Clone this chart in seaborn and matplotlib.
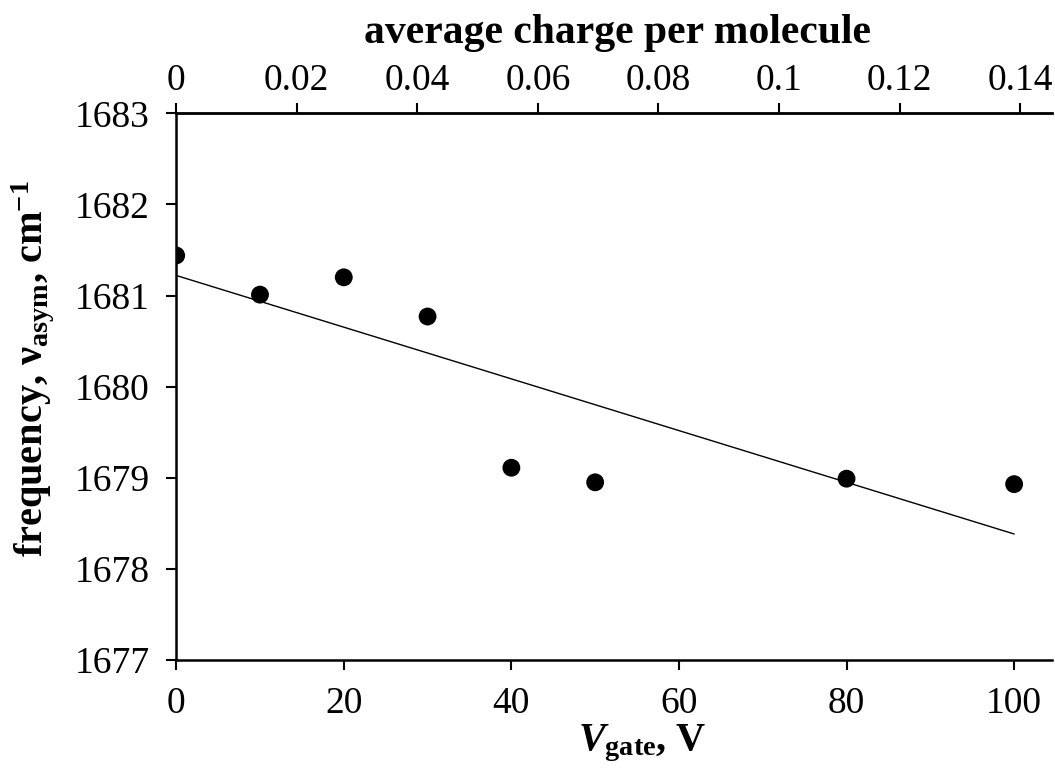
import numpy as np
import pandas as pd
import matplotlib
matplotlib.use("Agg")
import matplotlib.pyplot as plt
import seaborn as sns

# data
v_gate = [0, 10, 20, 30, 40, 50, 80, 100]
frequency = [1681.44, 1681.01, 1681.20, 1680.77, 1679.11, 1678.95, 1678.99, 1678.93]
x_ticks = [0, 20, 40, 60, 80, 100]
y_ticks = [1677, 1678, 1679, 1680, 1681, 1682, 1683]
top_ticks = [0, 0.02, 0.04, 0.06, 0.08, 0.1, 0.12, 0.14]
charge_per_volt = 0.00139

sns.set_style("ticks")
plt.rcParams["font.family"] = ["Liberation Serif", "DejaVu Serif"]
plt.rcParams["mathtext.fontset"] = "custom"
plt.rcParams["mathtext.rm"] = "Liberation Serif:bold"
plt.rcParams["mathtext.bf"] = "Liberation Serif:bold"
plt.rcParams["mathtext.it"] = "Liberation Serif:italic:bold"
plt.rcParams["text.color"] = "black"
plt.rcParams["axes.labelcolor"] = "black"
plt.rcParams["xtick.color"] = "black"
plt.rcParams["ytick.color"] = "black"

df = pd.DataFrame({"v": v_gate, "f": frequency})

fig = plt.figure(figsize=(10.55, 7.71), dpi=100)
ax = fig.add_axes([0.167, 0.144, 0.830, 0.709])

sns.regplot(data=df, x="v", y="f", ax=ax, ci=None, color="black",
            scatter_kws={"s": 165, "edgecolor": "none", "alpha": 1, "zorder": 3},
            line_kws={"linewidth": 1.0})

ax.set_xlim(0, 104.5)
ax.set_ylim(1677, 1683)
ax.set_xticks(x_ticks)
ax.set_yticks(y_ticks)
ax.set_xticklabels([str(t) for t in x_ticks])
ax.set_yticklabels([str(t) for t in y_ticks])

for s in ["left", "bottom", "top"]:
    ax.spines[s].set_linewidth(1.8)
    ax.spines[s].set_color("black")
ax.spines["right"].set_visible(False)
ax.tick_params(axis="both", direction="out", length=7, width=1.5,
               labelsize=27, colors="black")
ax.tick_params(axis="y", pad=12)
ax.tick_params(axis="x", pad=12)

ax.set_xlabel(r"$V_{\mathrm{gate}}$, V", fontsize=29, fontweight="bold")
ax.xaxis.set_label_coords(0.532, -0.115)
ax.set_ylabel("")

fig.text(0.031, 0.522, r"frequency, ν$_{\mathrm{asym}}$, cm$^{\mathrm{-1}}$",
         fontsize=29, fontweight="bold", rotation=90, ha="center", va="center")

sec = ax.secondary_xaxis("top", functions=(lambda x: x * charge_per_volt,
                                           lambda c: c / charge_per_volt))
sec.set_xticks(top_ticks)
sec.set_xticklabels(["%g" % t for t in top_ticks])
sec.tick_params(axis="x", direction="out", length=7, width=1.5,
                labelsize=27, colors="black", pad=4)
sec.spines["top"].set_linewidth(1.8)

fig.text(0.585, 1 - 43 / 771, "average charge per molecule",
         fontsize=30, fontweight="bold", ha="center", va="baseline")

fig.savefig("out.png", dpi=100, facecolor="white")
